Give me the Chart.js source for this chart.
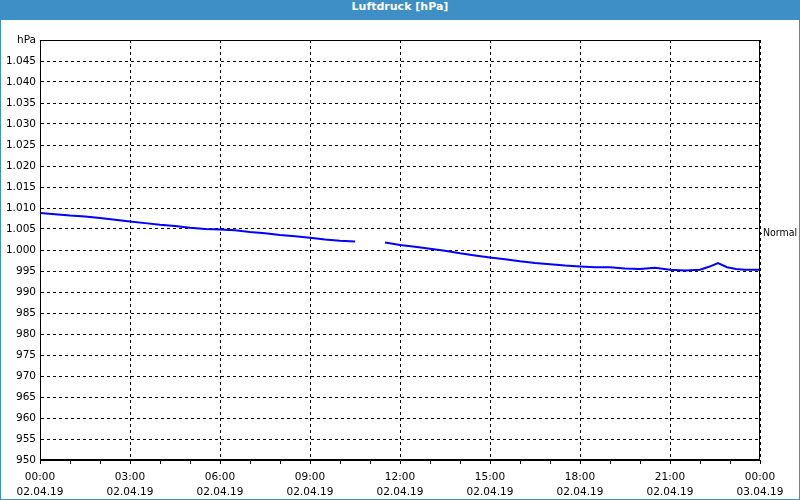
<!DOCTYPE html>
<html lang="de">
<head>
  <meta charset="UTF-8">
  <title>Luftdruck [hPa]</title>
  <script src="https://cdn.jsdelivr.net/npm/chart.js"></script>
  <style>
    body { margin: 0; background: #fff; }
    #frame { width: 798px; height: 499px; border: 1px solid #3d8fc6; border-top: none; position: relative; }
    #title { height: 20px; line-height: 20px; background: #3d8fc6; color: #fff; text-align: center;
             font: bold 11px "DejaVu Sans", sans-serif; }
    #box { width: 798px; height: 479px; }
  </style>
</head>
<body>
  <div id="frame">
    <div id="title">Luftdruck [hPa]</div>
    <div id="box"><canvas id="pressureChart" width="798" height="479"></canvas></div>
  </div>

  <script>
    // Zeit in Stunden ab 02.04.19 00:00, null = Lücke
    const hours = [0, 0.5, 1, 1.5, 2, 2.5, 3, 3.5, 4, 4.5, 5, 5.5, 6, 6.5, 7, 7.5, 8, 8.5, 9, 9.5, 10, 10.5,
                   11,
                   11.5, 12, 12.5, 13, 13.5, 14, 14.5, 15, 15.5, 16, 16.5, 17, 17.5, 18, 18.5, 19, 19.5, 20,
                   20.5, 21, 21.5, 22, 22.3, 22.6, 22.9, 23.2, 23.5, 24];
    const pressure = [1008.8, 1008.5, 1008.2, 1008.0, 1007.6, 1007.2, 1006.8, 1006.4, 1006.0, 1005.7, 1005.3, 1005.0,
                      1004.9, 1004.7, 1004.3, 1004.0, 1003.6, 1003.3, 1002.9, 1002.5, 1002.2, 1002.0,
                      null,
                      1001.8, 1001.2, 1000.8, 1000.3, 999.8, 999.2, 998.7, 998.2, 997.8, 997.3, 996.9, 996.6,
                      996.3, 996.1, 995.9, 995.9, 995.6, 995.5, 995.8, 995.3, 995.1, 995.3, 996.0, 996.9,
                      995.9, 995.5, 995.3, 995.3];
    const dayLabels = ['02.04.19', '03.04.19'];
    const normalValue = 1004;

    const points = hours.map((h, i) => ({ x: h, y: pressure[i] }));

    function formatHpa(v) {
      if (v === 1050) return 'hPa';
      if (v >= 1000) return '1.' + String(v - 1000).padStart(3, '0');
      return String(v);
    }

    const framePlugin = {
      id: 'frame',
      afterDraw(chart) {
        const a = chart.chartArea;
        const ctx = chart.ctx;
        ctx.save();
        ctx.strokeStyle = '#000';
        ctx.lineWidth = 1;
        ctx.strokeRect(Math.round(a.left) + 0.5, Math.round(a.top) + 0.5,
                       Math.round(a.right - a.left) - 1, Math.round(a.bottom - a.top) - 1);
        ctx.restore();
      }
    };

    const font = { family: '"DejaVu Sans", sans-serif', size: 10.5 };

    new Chart(document.getElementById('pressureChart'), {
      type: 'line',
      data: {
        datasets: [{
          data: points,
          borderColor: '#0000ff',
          borderWidth: 2,
          pointRadius: 0,
          tension: 0,
          spanGaps: false
        }]
      },
      options: {
        responsive: false,
        animation: false,
        layout: { padding: { top: 20, left: 0, right: 0, bottom: 0 } },
        plugins: { legend: { display: false }, tooltip: { enabled: false } },
        scales: {
          x: {
            type: 'linear',
            min: 0,
            max: 24,
            afterFit: s => { s.height = 39; },
            ticks: {
              stepSize: 1,
              autoSkip: false,
              maxRotation: 0,
              padding: 5,
              color: '#000',
              font: { ...font, lineHeight: 1.5 },
              callback: v => {
                if (v % 3 !== 0) return '';
                const hh = String(v % 24).padStart(2, '0') + ':00';
                return [hh, v === 24 ? dayLabels[1] : dayLabels[0]];
              }
            },
            grid: {
              color: c => (c.tick && c.tick.value % 3 === 0) ? '#000' : 'rgba(0,0,0,0)',
              tickColor: '#000',
              tickLength: 4
            },
            border: { color: '#000', dash: [3, 3] }
          },
          y: {
            min: 950,
            max: 1050,
            afterFit: s => { s.width = 39; },
            ticks: {
              stepSize: 5,
              padding: 4,
              color: '#000',
              font: font,
              callback: v => formatHpa(v)
            },
            grid: { color: '#000', drawTicks: false },
            border: { color: '#000', dash: [3, 3] }
          },
          yRight: {
            position: 'right',
            min: 950,
            max: 1050,
            afterFit: s => { s.width = 39; },
            afterBuildTicks: s => { s.ticks = [{ value: normalValue }]; },
            ticks: {
              padding: 1,
              color: '#000',
              font: { family: '"DejaVu Sans Condensed", "DejaVu Sans", sans-serif', size: 10.5 },
              callback: () => 'Normal'
            },
            grid: { drawOnChartArea: false, color: '#000', tickLength: 2 },
            border: { display: false }
          }
        }
      },
      plugins: [framePlugin]
    });
  </script>
</body>
</html>
